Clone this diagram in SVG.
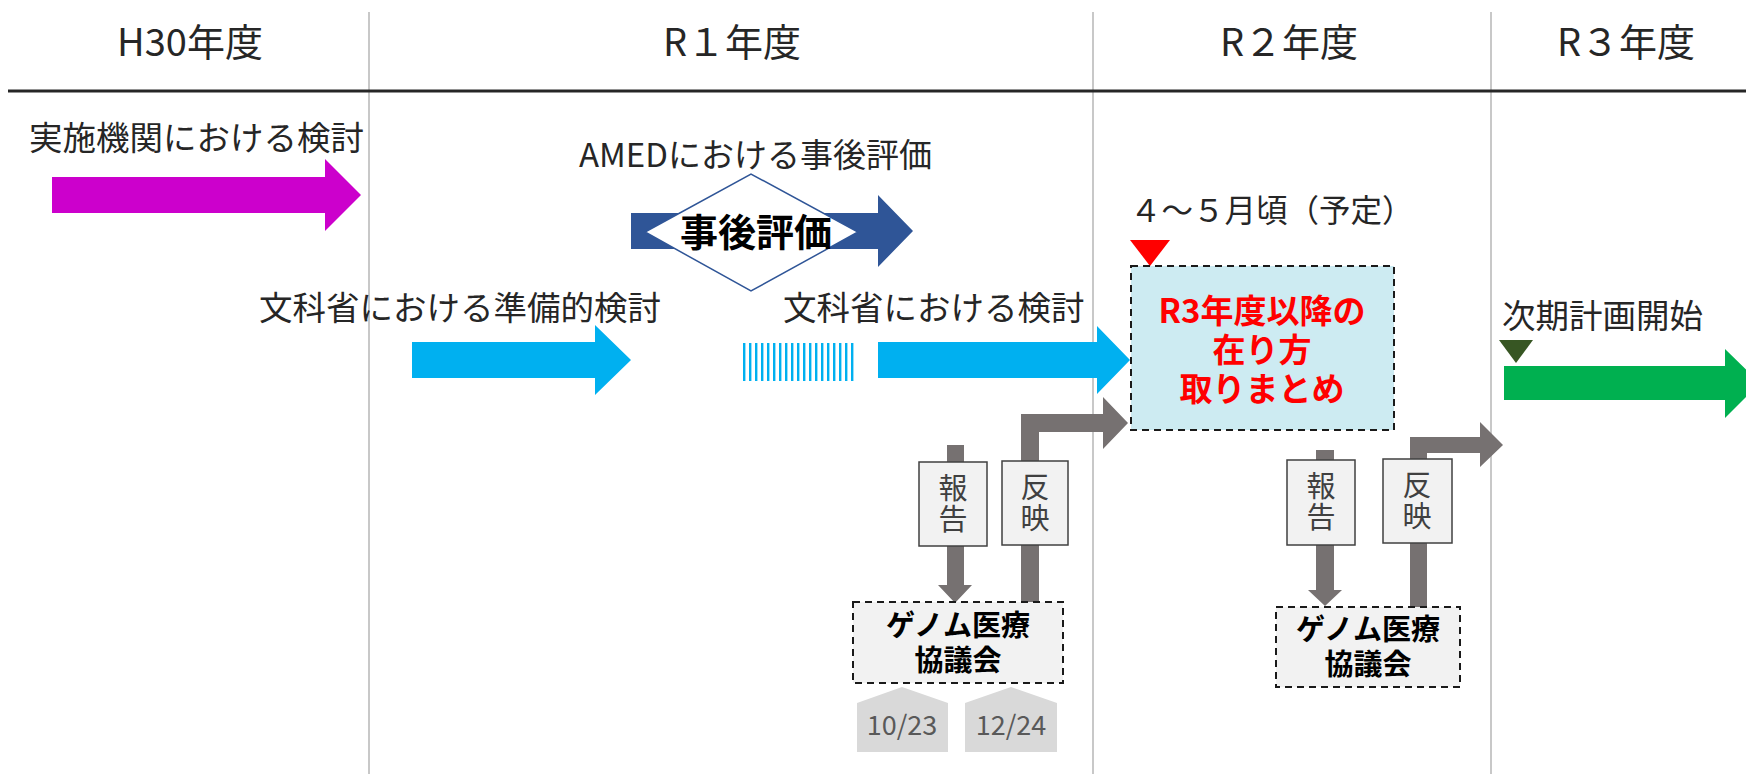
<svg xmlns="http://www.w3.org/2000/svg" width="1746" height="774" viewBox="0 0 1746 774">
<style>
text{font-family:"Noto Sans CJK JP","Noto Sans",sans-serif;fill:#262626}
.hd{font-size:38px;text-anchor:middle}
.lb{font-size:33.5px}
.vl{stroke:#C8C8C8;stroke-width:2}
.gray{fill:#767171}
.lbl{fill:#F2F2F2;stroke:#404040;stroke-width:1.5}
.lt{font-size:29px;text-anchor:middle;fill:#404040;writing-mode:vertical-rl;letter-spacing:2px}
.dash{stroke:#1a1a1a;stroke-width:2;stroke-dasharray:7 5}
.gk{font-size:29px;font-weight:bold;text-anchor:middle;fill:#000}
.red{font-size:33px;font-weight:bold;text-anchor:middle;fill:#FF0000}
.tab{fill:#D9D9D9}
.tt{font-size:27px;text-anchor:middle;fill:#595959}
</style>
<rect width="1746" height="774" fill="#fff"/>
<g id="grid">
<line class="vl" x1="369" y1="12" x2="369" y2="774"/>
<line class="vl" x1="1093" y1="12" x2="1093" y2="774"/>
<line class="vl" x1="1491" y1="12" x2="1491" y2="774"/>
<line x1="8" y1="91" x2="1746" y2="91" stroke="#262626" stroke-width="3"/>
</g>
<g id="headers">
<text class="hd" x="190" y="56">H30年度</text>
<text class="hd" x="732" y="56">R１年度</text>
<text class="hd" x="1289" y="56">R２年度</text>
<text class="hd" x="1626" y="56">R３年度</text>
</g>
<g id="jisshi">
<text class="lb" x="29" y="150">実施機関における検討</text>
<polygon points="52,177 325,177 325,159 361,195 325,231 325,213 52,213" fill="#CC00CC"/>
</g>
<g id="amed">
<text x="579" y="167" style="font-size:33px">AMEDにおける事後評価</text>
<polygon points="631,213 878,213 878,195 913,231 878,267 878,249 631,249" fill="#2F5597"/>
<polygon points="645,232 751,174 858,232 751,291" fill="#fff" stroke="#2F5597" stroke-width="1.5"/>
<text x="756" y="246" style="font-size:38px;font-weight:bold;text-anchor:middle;fill:#000">事後評価</text>
</g>
<g id="monka-jumbi">
<text class="lb" x="259" y="320">文科省における準備的検討</text>
<polygon points="412,342 595,342 595,325 631,360 595,395 595,378 412,378" fill="#00B0F0"/>
</g>
<g id="stripes">
<line x1="743" y1="362" x2="856" y2="362" stroke="#00B0F0" stroke-width="38" stroke-dasharray="2.4 3.6"/>
</g>
<g id="monka">
<text class="lb" x="783" y="320">文科省における検討</text>
<polygon points="878,342 1097,342 1097,326 1130,360 1097,394 1097,378 878,378" fill="#00B0F0"/>
</g>
<g id="matome">
<text x="1130" y="222" style="font-size:31.5px">４～５月頃（予定）</text>
<polygon points="1130,240 1170,240 1150,266" fill="#FF0000"/>
<rect x="1131" y="266" width="263" height="164" fill="#CDEBF2" class="dash"/>
<text class="red"><tspan x="1262" y="323">R3年度以降の</tspan><tspan x="1262" y="362">在り方</tspan><tspan x="1262" y="401">取りまとめ</tspan></text>
</g>
<g id="jiki">
<text class="lb" x="1502" y="328">次期計画開始</text>
<polygon points="1499,340 1533,340 1516,363" fill="#375623"/>
<polygon points="1504,366 1725,366 1725,349 1760,383 1725,418 1725,400 1504,400" fill="#00B050"/>
</g>
<g id="connectors">
<polygon class="gray" points="947,445 964,445 964,585 972,585 955,603 938,585 947,585"/>
<polygon class="gray" points="1021,603 1021,414 1103,414 1103,397 1128,423 1103,449 1103,432 1039,432 1039,603"/>
<polygon class="gray" points="1316,450 1334,450 1334,590 1342,590 1325,606 1308,590 1316,590"/>
<polygon class="gray" points="1410,607 1410,437 1480,437 1480,422 1503,445 1480,467 1480,453 1427,453 1427,607"/>
</g>
<g id="hokoku1">
<rect class="lbl" x="919" y="462" width="68" height="84"/>
<text class="lt" x="953" y="504">報告</text>
</g>
<g id="hanei1">
<rect class="lbl" x="1002" y="461" width="66" height="84"/>
<text class="lt" x="1035" y="503">反映</text>
</g>
<g id="hokoku2">
<rect class="lbl" x="1287" y="460" width="68" height="85"/>
<text class="lt" x="1321" y="502">報告</text>
</g>
<g id="hanei2">
<rect class="lbl" x="1383" y="459" width="69" height="84"/>
<text class="lt" x="1417" y="501">反映</text>
</g>
<g id="genome1">
<rect x="853" y="602" width="210" height="81" fill="#F2F2F2" class="dash"/>
<text class="gk"><tspan x="958" y="636">ゲノム医療</tspan><tspan x="958" y="671">協議会</tspan></text>
</g>
<g id="genome2">
<rect x="1276" y="607" width="184" height="80" fill="#F2F2F2" class="dash"/>
<text class="gk"><tspan x="1368" y="640">ゲノム医療</tspan><tspan x="1368" y="675">協議会</tspan></text>
</g>
<g id="tab1">
<polygon class="tab" points="857,703 902,687 948,703 948,752 857,752"/>
<text class="tt" x="902" y="735">10/23</text>
</g>
<g id="tab2">
<polygon class="tab" points="965,703 1011,687 1057,703 1057,752 965,752"/>
<text class="tt" x="1011" y="735">12/24</text>
</g>
</svg>
